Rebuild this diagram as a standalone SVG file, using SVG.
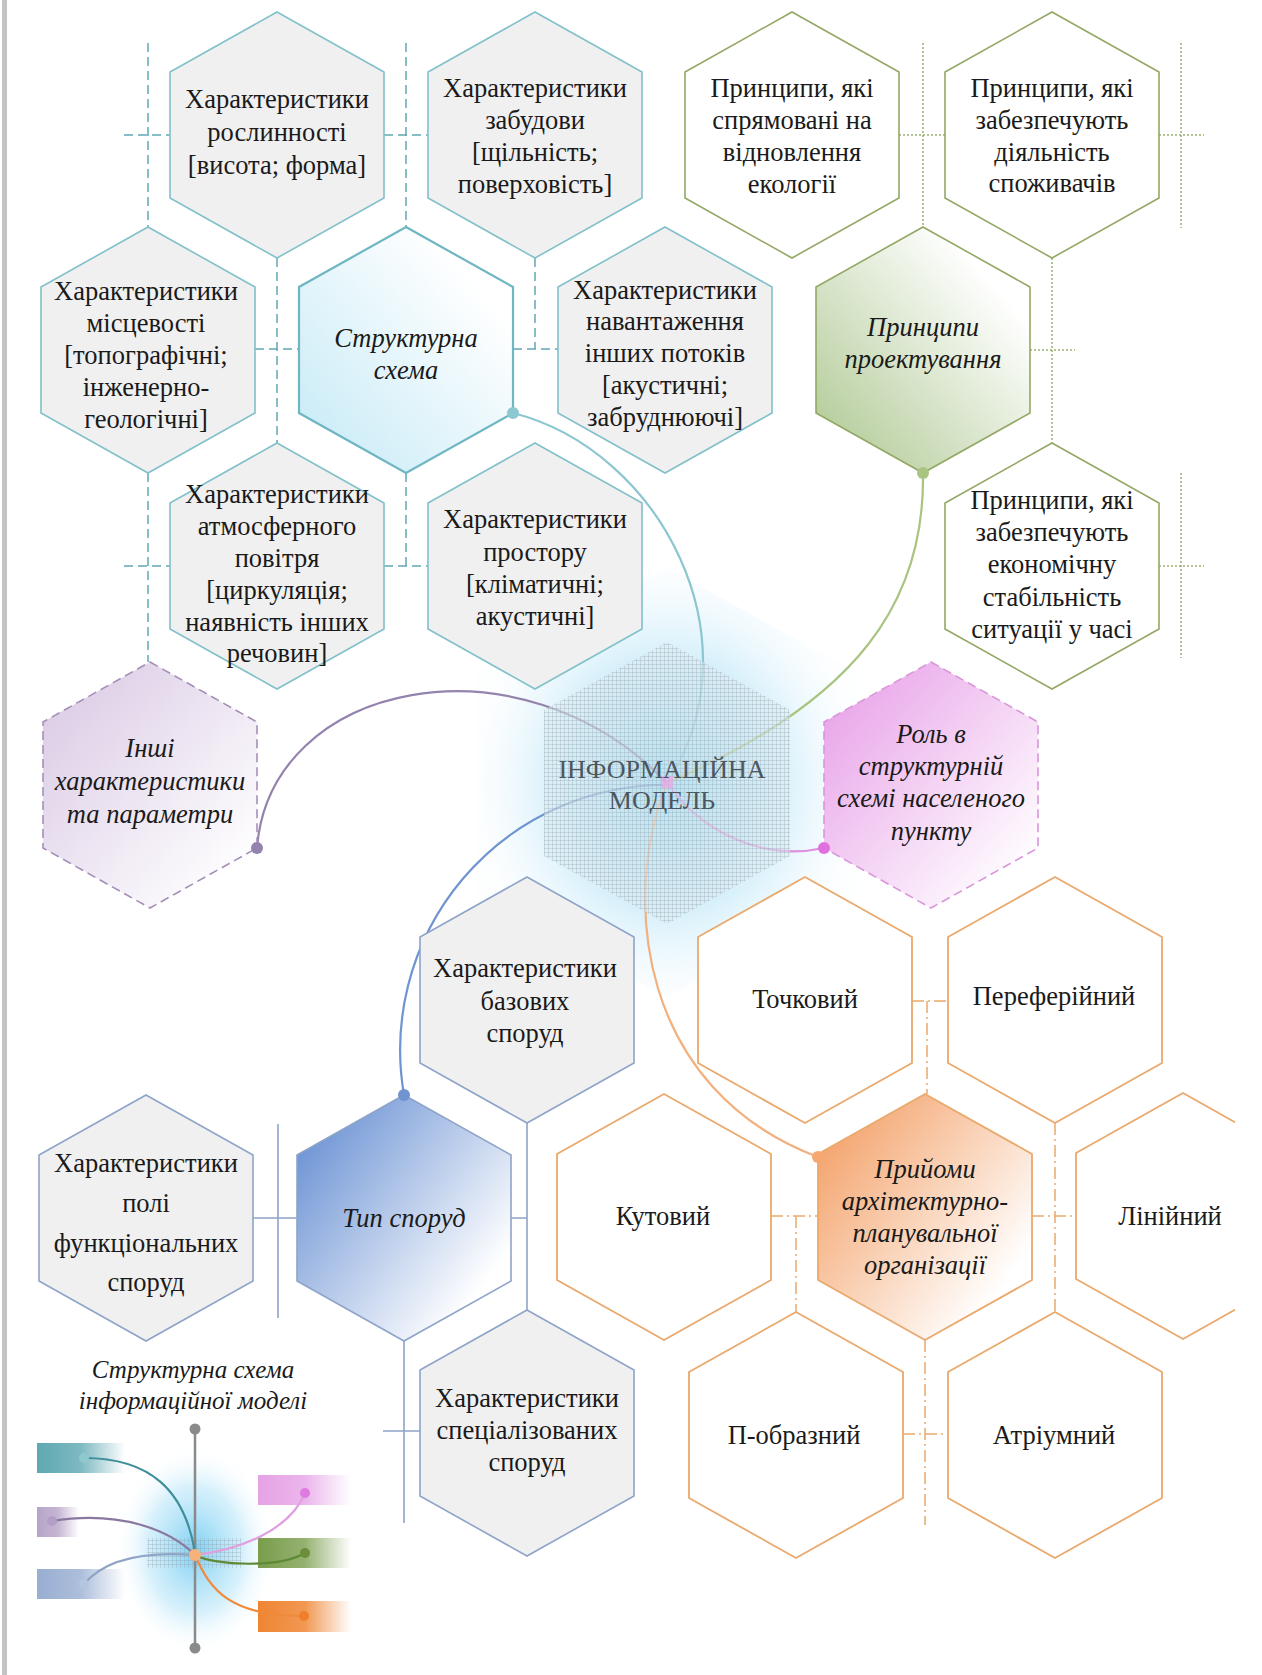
<svg xmlns="http://www.w3.org/2000/svg" xmlns:xlink="http://www.w3.org/1999/xlink" width="1262" height="1675" viewBox="0 0 1262 1675">
<style>
.t{font-family:"Liberation Serif","Times New Roman",serif;font-size:26.5px;fill:#1a1a1a;text-anchor:middle}
.ti{font-style:italic}
.teal{fill:#f0f0f1;stroke:#82c0ca;stroke-width:1.6}
.green{fill:#fff;stroke:#93a865;stroke-width:1.6}
.bg{fill:#f0f0f1;stroke:#8ea4c8;stroke-width:1.6}
.orn{fill:#fff;stroke:#eaa96c;stroke-width:1.8}
.dteal{stroke:#62a8b4;stroke-dasharray:9 5;stroke-width:1.5;fill:none}
.dgreen{stroke:#9cb070;stroke-dasharray:2 2;stroke-width:1.5;fill:none}
.lbg{stroke:#8ea4c8;stroke-width:1.6;fill:none}
.dorn{stroke:#eaa96c;stroke-dasharray:12 4 2 4;stroke-width:1.5;fill:none}
.cv{fill:none;stroke-width:2.2}
</style>
<defs>
<polygon id="hx" points="0,-123 107,-63 107,63 0,123 -107,63 -107,-63"/>
<pattern id="grid" width="4" height="4" patternUnits="userSpaceOnUse"><path d="M4 0H0V4" fill="none" stroke="#8e9ca6" stroke-width="0.6"/></pattern>
<radialGradient id="glow" cx="0.5" cy="0.5" r="0.5"><stop offset="0" stop-color="#8fd6f4" stop-opacity="1"/><stop offset="0.5" stop-color="#bfe7f8" stop-opacity="0.85"/><stop offset="1" stop-color="#e4f5fc" stop-opacity="0.1"/></radialGradient>
<radialGradient id="lglow" cx="0.5" cy="0.5" r="0.5"><stop offset="0" stop-color="#7fd0f3" stop-opacity="1"/><stop offset="0.6" stop-color="#c4eafa" stop-opacity="0.7"/><stop offset="1" stop-color="#ffffff" stop-opacity="0"/></radialGradient>
<linearGradient id="gTeal" x1="0.1" y1="0.9" x2="0.8" y2="0.2"><stop offset="0" stop-color="#cbecf7"/><stop offset="1" stop-color="#ffffff"/></linearGradient>
<linearGradient id="gGreen" x1="0.1" y1="0.9" x2="0.8" y2="0.2"><stop offset="0" stop-color="#b6cd9c"/><stop offset="1" stop-color="#ffffff"/></linearGradient>
<linearGradient id="gPurple" x1="0.1" y1="0.1" x2="0.9" y2="0.9"><stop offset="0" stop-color="#dccde6"/><stop offset="1" stop-color="#ffffff"/></linearGradient>
<linearGradient id="gPink" x1="0.1" y1="0.1" x2="0.9" y2="0.9"><stop offset="0" stop-color="#e9a6e9"/><stop offset="1" stop-color="#ffffff"/></linearGradient>
<linearGradient id="gBlue" x1="0.1" y1="0.15" x2="0.85" y2="0.8"><stop offset="0" stop-color="#7398d6"/><stop offset="1" stop-color="#ffffff"/></linearGradient>
<linearGradient id="gOrange" x1="0.1" y1="0.15" x2="0.85" y2="0.8"><stop offset="0" stop-color="#f4a772"/><stop offset="1" stop-color="#ffffff"/></linearGradient>
<linearGradient id="bTeal"><stop offset="0" stop-color="#5ea8b2"/><stop offset="0.5" stop-color="#5ea8b2" stop-opacity="0.8"/><stop offset="1" stop-color="#5ea8b2" stop-opacity="0"/></linearGradient>
<linearGradient id="bPurple"><stop offset="0" stop-color="#b7a4c8"/><stop offset="0.5" stop-color="#b7a4c8" stop-opacity="0.8"/><stop offset="1" stop-color="#b7a4c8" stop-opacity="0"/></linearGradient>
<linearGradient id="bBlue"><stop offset="0" stop-color="#98aed2"/><stop offset="0.5" stop-color="#98aed2" stop-opacity="0.8"/><stop offset="1" stop-color="#98aed2" stop-opacity="0"/></linearGradient>
<linearGradient id="bPink"><stop offset="0" stop-color="#e6a2e6"/><stop offset="0.5" stop-color="#e6a2e6" stop-opacity="0.8"/><stop offset="1" stop-color="#e6a2e6" stop-opacity="0"/></linearGradient>
<linearGradient id="bGreen"><stop offset="0" stop-color="#7a9d4c"/><stop offset="0.5" stop-color="#7a9d4c" stop-opacity="0.8"/><stop offset="1" stop-color="#7a9d4c" stop-opacity="0"/></linearGradient>
<linearGradient id="bOrange"><stop offset="0" stop-color="#ef8533"/><stop offset="0.5" stop-color="#ef8533" stop-opacity="0.85"/><stop offset="1" stop-color="#ef8533" stop-opacity="0"/></linearGradient>
<clipPath id="clipR"><rect x="0" y="0" width="1235" height="1675"/></clipPath>
</defs>

<rect x="0" y="0" width="1262" height="1675" fill="#ffffff"/>
<rect x="2" y="0" width="5" height="1675" fill="#c4c4c4"/>

<polygon id="glowhex" points="667,568 857,673 857,893 667,998 477,893 477,673" fill="url(#glow)"/>

<g id="connectors">
  <path class="dteal" d="M148 43V227 M124 135H170 M406 43V227 M384 135H428 M277 258V443 M255 349H299 M535 258V349 M513 349H558 M148 473V662 M406 473V566 M124 566H170 M384 566H428"/>
  <path class="dgreen" d="M923 43V227 M899 135H945 M1181 43V228 M1159 135H1204 M1052 258V443 M1030 350H1075 M1181 473V658 M1159 566H1204"/>
  <path class="lbg" d="M278 1124V1318 M253 1218H297 M527 1123V1310 M511 1218H527 M404 1341V1523 M383 1431H420"/>
  <path class="dorn" d="M912 1001H948 M927 1001V1094 M771 1216H818 M796 1216V1312 M1032 1216H1076 M1055 1123V1312 M903 1434H948 M925 1340V1525"/>
  <path class="cv" stroke="#8cc6d0" d="M513 413 C660 450 760 640 667 783"/>
  <path class="cv" stroke="#a9c480" d="M923 473 C925 600 860 700 667 783"/>
  <path class="cv" stroke="#9483ad" d="M257 848 C270 680 520 630 667 783"/>
  <path class="cv" stroke="#e08ee0" d="M824 848 C760 862 700 830 667 783"/>
  <path class="cv" stroke="#6f94d0" d="M404 1095 A265 265 0 0 1 667 785"/>
  <path class="cv" stroke="#f2b07e" d="M818 1157 C640 1090 620 900 667 783"/>
</g>

<g id="n-model">
  <polygon points="667,642 790,710 790,856 667,924 544,856 544,710" fill="#dcecf3" fill-opacity="0.55"/>
  <polygon points="667,642 790,710 790,856 667,924 544,856 544,710" fill="url(#grid)"/>
  <rect x="661" y="776" width="12" height="12" fill="#e9a7e9" fill-opacity="0.7"/>
  <text class="t" x="662" y="778" style="fill:#4a5660;font-size:26px">ІНФОРМАЦІЙНА</text>
  <text class="t" x="662" y="809" style="fill:#4a5660;font-size:26px">МОДЕЛЬ</text>
</g>

<g id="n-roslynnosti"><use href="#hx" x="277" y="135" class="teal"/>
<text class="t" x="277" y="108">Характеристики</text><text class="t" x="277" y="141">рослинності</text><text class="t" x="277" y="174">[висота; форма]</text></g>
<g id="n-zabudovy"><use href="#hx" x="535" y="135" class="teal"/>
<text class="t" x="535" y="97">Характеристики</text><text class="t" x="535" y="129">забудови</text><text class="t" x="535" y="161">[щільність;</text><text class="t" x="535" y="193">поверховість]</text></g>
<g id="n-mistsevosti"><use href="#hx" x="148" y="350" class="teal"/>
<text class="t" x="146" y="300">Характеристики</text><text class="t" x="146" y="332">місцевості</text><text class="t" x="146" y="364">[топографічні;</text><text class="t" x="146" y="396">інженерно-</text><text class="t" x="146" y="428">геологічні]</text></g>
<g id="n-struktura"><use href="#hx" x="406" y="350" class="teal" style="fill:url(#gTeal);stroke:#6fb6c3;stroke-width:2.2"/>
<text class="t ti" x="406" y="347">Структурна</text><text class="t ti" x="406" y="379">схема</text></g>
<g id="n-navantazhennia"><use href="#hx" x="665" y="350" class="teal"/>
<text class="t" x="665" y="299">Характеристики</text><text class="t" x="665" y="330">навантаження</text><text class="t" x="665" y="362">інших потоків</text><text class="t" x="665" y="394">[акустичні;</text><text class="t" x="665" y="426">забруднюючі]</text></g>
<g id="n-atmosfera"><use href="#hx" x="277" y="566" class="teal"/>
<text class="t" x="277" y="503">Характеристики</text><text class="t" x="277" y="535">атмосферного</text><text class="t" x="277" y="567">повітря</text><text class="t" x="277" y="599">[циркуляція;</text><text class="t" x="277" y="631">наявність інших</text><text class="t" x="277" y="662">речовин]</text></g>
<g id="n-prostir"><use href="#hx" x="535" y="566" class="teal"/>
<text class="t" x="535" y="528">Характеристики</text><text class="t" x="535" y="561">простору</text><text class="t" x="535" y="593">[кліматичні;</text><text class="t" x="535" y="625">акустичні]</text></g>

<g id="n-ekolohiia"><use href="#hx" x="792" y="135" class="green"/>
<text class="t" x="792" y="97">Принципи, які</text><text class="t" x="792" y="129">спрямовані на</text><text class="t" x="792" y="161">відновлення</text><text class="t" x="792" y="193">екології</text></g>
<g id="n-spozhyvachi"><use href="#hx" x="1052" y="135" class="green"/>
<text class="t" x="1052" y="97">Принципи, які</text><text class="t" x="1052" y="129">забезпечують</text><text class="t" x="1052" y="161">діяльність</text><text class="t" x="1052" y="192">споживачів</text></g>
<g id="n-pryntsypy"><use href="#hx" x="923" y="350" class="green" style="fill:url(#gGreen)"/>
<text class="t ti" x="923" y="336">Принципи</text><text class="t ti" x="923" y="368">проектування</text></g>
<g id="n-ekonomika"><use href="#hx" x="1052" y="566" class="green"/>
<text class="t" x="1052" y="509">Принципи, які</text><text class="t" x="1052" y="541">забезпечують</text><text class="t" x="1052" y="573">економічну</text><text class="t" x="1052" y="606">стабільність</text><text class="t" x="1052" y="638">ситуації у часі</text></g>

<g id="n-inshi"><use href="#hx" x="150" y="785" style="fill:url(#gPurple);stroke:#a58fb8;stroke-width:1.6;stroke-dasharray:9 5"/>
<text class="t ti" x="150" y="757">Інші</text><text class="t ti" x="150" y="790">характеристики</text><text class="t ti" x="150" y="823">та параметри</text></g>
<g id="n-rol"><use href="#hx" x="931" y="785" style="fill:url(#gPink);stroke:#d996d9;stroke-width:1.6;stroke-dasharray:9 5"/>
<text class="t ti" x="931" y="743">Роль в</text><text class="t ti" x="931" y="775">структурній</text><text class="t ti" x="931" y="807">схемі населеного</text><text class="t ti" x="931" y="840">пункту</text></g>

<g id="n-bazovi"><use href="#hx" x="527" y="1000" class="bg"/>
<text class="t" x="525" y="977">Характеристики</text><text class="t" x="525" y="1010">базових</text><text class="t" x="525" y="1042">споруд</text></g>
<g id="n-typ"><use href="#hx" x="404" y="1218" class="bg" style="fill:url(#gBlue)"/>
<text class="t ti" x="404" y="1227">Тип споруд</text></g>
<g id="n-poli"><use href="#hx" x="146" y="1218" class="bg"/>
<text class="t" x="146" y="1172">Характеристики</text><text class="t" x="146" y="1212">полі</text><text class="t" x="146" y="1252">функціональних</text><text class="t" x="146" y="1291">споруд</text></g>
<g id="n-spets"><use href="#hx" x="527" y="1433" class="bg"/>
<text class="t" x="527" y="1407">Характеристики</text><text class="t" x="527" y="1439">спеціалізованих</text><text class="t" x="527" y="1471">споруд</text></g>

<g id="n-tochkovyi"><use href="#hx" x="805" y="1000" class="orn"/><text class="t" x="805" y="1008">Точковий</text></g>
<g id="n-pereferiinyi"><use href="#hx" x="1055" y="1000" class="orn"/><text class="t" x="1054" y="1005">Переферійний</text></g>
<g id="n-kutovyi"><use href="#hx" x="664" y="1217" class="orn"/><text class="t" x="663" y="1225">Кутовий</text></g>
<g id="n-pryiomy"><use href="#hx" x="925" y="1217" class="orn" style="fill:url(#gOrange)"/>
<text class="t ti" x="925" y="1178">Прийоми</text><text class="t ti" x="925" y="1210">архітектурно-</text><text class="t ti" x="925" y="1242">планувальної</text><text class="t ti" x="925" y="1274">організації</text></g>
<g id="n-liniinyi"><g clip-path="url(#clipR)"><use href="#hx" x="1183" y="1216" class="orn"/></g><text class="t" x="1170" y="1225">Лінійний</text></g>
<g id="n-pobraznyi"><use href="#hx" x="796" y="1435" class="orn"/><text class="t" x="794" y="1444">П-образний</text></g>
<g id="n-atriumnyi"><use href="#hx" x="1055" y="1435" class="orn"/><text class="t" x="1054" y="1444">Атріумний</text></g>

<g id="dots">
  <circle cx="513" cy="413" r="6" fill="#8cc8d2"/>
  <circle cx="923" cy="473" r="6" fill="#a9c480"/>
  <circle cx="257" cy="848" r="6" fill="#9483ad"/>
  <circle cx="824" cy="848" r="6" fill="#e070e0"/>
  <circle cx="404" cy="1095" r="6" fill="#6f94d0"/>
  <circle cx="818" cy="1157" r="6" fill="#f5a870"/>
</g>

<g id="legend">
  <text class="t ti" x="193" y="1378" style="font-size:25px">Структурна схема</text>
  <text class="t ti" x="193" y="1409" style="font-size:25px">інформаційної моделі</text>
  <ellipse cx="195" cy="1550" rx="80" ry="105" fill="url(#lglow)"/>
  <rect x="37" y="1443" width="88" height="30" fill="url(#bTeal)"/>
  <rect x="37" y="1507" width="42" height="30" fill="url(#bPurple)"/>
  <rect x="37" y="1569" width="88" height="30" fill="url(#bBlue)"/>
  <rect x="258" y="1475" width="93" height="30" fill="url(#bPink)"/>
  <rect x="258" y="1538" width="93" height="30" fill="url(#bGreen)"/>
  <rect x="258" y="1601" width="93" height="31" fill="url(#bOrange)"/>
  <rect x="147" y="1538" width="94" height="30" fill="url(#grid)"/>
  <line x1="195" y1="1429" x2="195" y2="1648" stroke="#8a8a8a" stroke-width="2.5"/>
  <circle cx="195" cy="1429" r="5.5" fill="#8a8a8a"/>
  <circle cx="195" cy="1648" r="5.5" fill="#8a8a8a"/>
  <path class="cv" stroke-width="1.6" stroke="#3f8f9b" d="M84 1458 C150 1458 185 1490 195 1553"/>
  <path class="cv" stroke-width="1.6" stroke="#8a78a0" d="M52 1521 C120 1510 170 1530 195 1555"/>
  <path class="cv" stroke-width="1.6" stroke="#8fa4c4" d="M84 1584 C100 1565 130 1550 195 1555"/>
  <path class="cv" stroke-width="1.6" stroke="#e0a0e0" d="M195 1555 C240 1550 290 1530 305 1493"/>
  <path class="cv" stroke-width="1.6" stroke="#5e8a36" d="M195 1555 C215 1566 280 1568 305 1553"/>
  <path class="cv" stroke-width="1.6" stroke="#ee8a3a" d="M195 1555 C210 1590 230 1616 304 1616"/>
  <circle cx="195" cy="1555" r="6" fill="#f6b27a"/>
  <circle cx="84" cy="1458" r="5" fill="#8fc9d0"/>
  <circle cx="52" cy="1521" r="5" fill="#b39fc6"/>
  <circle cx="84" cy="1584" r="5" fill="#b4c5e0"/>
  <circle cx="305" cy="1493" r="5" fill="#e07ae0"/>
  <circle cx="305" cy="1553" r="5" fill="#6b8e3a"/>
  <circle cx="304" cy="1616" r="5" fill="#ef7f2c"/>
</g>
</svg>
